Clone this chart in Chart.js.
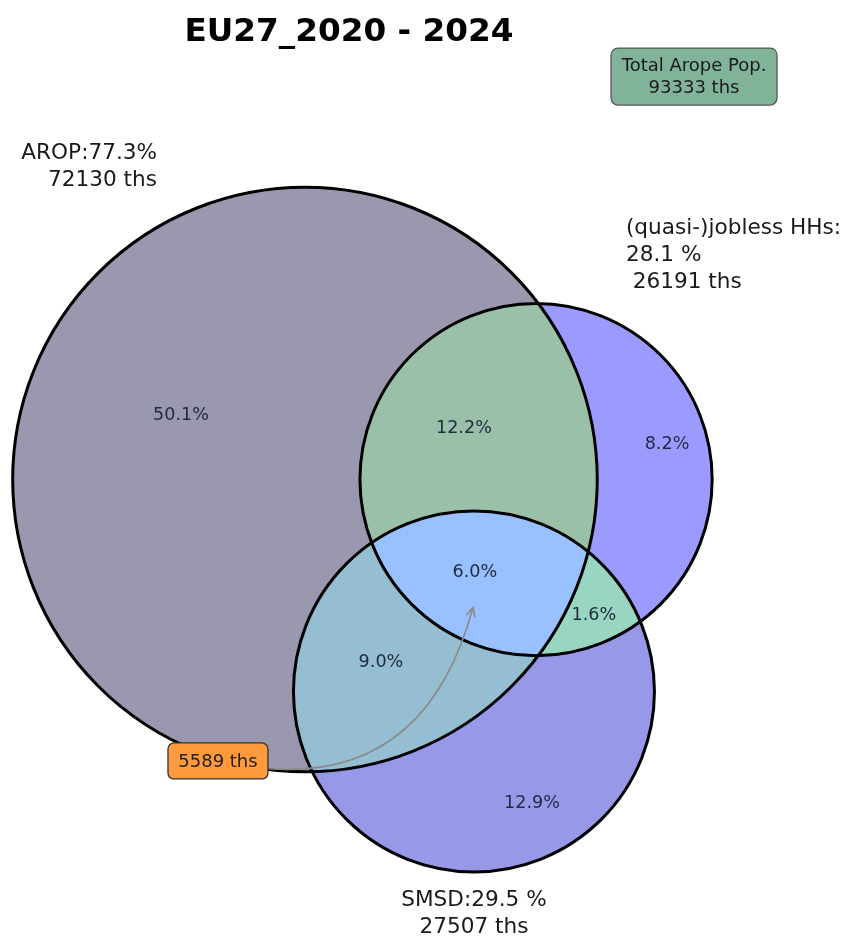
<!DOCTYPE html>
<html>
<head>
<meta charset="utf-8">
<script src="https://cdn.jsdelivr.net/npm/chart.js@4.4.1/dist/chart.umd.min.js"></script>
<style>
  body { margin: 0; background: #fff; }
  #wrap { width: 847px; height: 939px; }
</style>
</head>
<body>
<div id="wrap"><canvas id="venn"></canvas></div>
<script>
var chartTitle = "EU27_2020 - 2024";
var setNames = ["AROP", "(quasi-)jobless HHs", "SMSD"];
var setShares = [77.3, 28.1, 29.5];
var setThs = [72130, 26191, 27507];
var totalThs = 93333;
// regions as bit masks: 1 = AROP, 2 = jobless, 4 = SMSD
var regionMasks = [1, 2, 4, 3, 5, 6, 7];
var regionShares = [50.1, 8.2, 12.9, 12.2, 9.0, 1.6, 6.0];
var coreThs = 5589;

// layout (venn units, circle area = ths)
var setCenters = [{x: 0, y: 0}, {x: 119.8, y: 0}, {x: 87.6, y: -109.9}];
var regionLabelPos = [
  {x: -64.3, y: 33.4}, {x: 187.7, y: 18.4}, {x: 117.7, y: -167.7},
  {x: 82.4, y: 26.7}, {x: 39.4, y: -94.6}, {x: 149.8, y: -70.2}, {x: 88.1, y: -48.0}
];
var regionColors = ["#9a98ae", "#9b9bff", "#9898e8", "#9bc0aa", "#96bed3", "#99d6c1", "#99c0ff"];
var setLabelPos = [{x: -76.7, y: 169.3}, {x: 166.4, y: 123.1}, {x: 87.6, y: -218.0}];
var setLabelAlign = ["right", "left", "center"];
var titlePos = {x: 22.8, y: 232.0};
var totalBoxPos = {x: 201.7, y: 208.9};
var coreBoxPos = {x: -45.1, y: -145.9};
var coreArrowTip = {x: 87.1, y: -66.3};

var FONT = "'DejaVu Sans', sans-serif";

function setLabel(i) {
  if (i == 0) return setNames[0] + ":" + setShares[0].toFixed(1) + "%\n" + setThs[0] + " ths";
  if (i == 1) return setNames[1] + ":\n" + setShares[1].toFixed(1) + " %\n " + setThs[1] + " ths";
  return setNames[2] + ":" + setShares[2].toFixed(1) + " %\n" + setThs[2] + " ths";
}

function drawLines(ctx, text, x, y, lh) {
  var lines = text.split("\n");
  var y0 = y - (lines.length - 1) * lh / 2;
  lines.forEach(function (l, k) { ctx.fillText(l, x, y0 + k * lh); });
}

function roundBox(ctx, cx, cy, w, h, r, fill, stroke) {
  var x = cx - w / 2, y = cy - h / 2;
  ctx.beginPath();
  ctx.roundRect(x, y, w, h, r);
  ctx.fillStyle = fill;
  ctx.fill();
  ctx.lineWidth = 1.3;
  ctx.strokeStyle = stroke;
  ctx.stroke();
}

var vennPlugin = {
  id: "venn",
  beforeDatasetsDraw: function (chart) {
    var ctx = chart.ctx, xs = chart.scales.x, ys = chart.scales.y;
    var W = chart.width, H = chart.height;
    var pts = chart.getDatasetMeta(0).data;
    var circles = pts.map(function (p, i) {
      var r = Math.sqrt(setThs[i] / Math.PI);
      return {x: p.x, y: p.y, r: xs.getPixelForValue(setCenters[i].x + r) - xs.getPixelForValue(setCenters[i].x)};
    });
    regionMasks.forEach(function (m, k) {
      ctx.save();
      circles.forEach(function (c, i) {
        ctx.beginPath();
        if (m & (1 << i)) {
          ctx.arc(c.x, c.y, c.r, 0, 2 * Math.PI);
          ctx.clip();
        } else {
          ctx.rect(0, 0, W, H);
          ctx.arc(c.x, c.y, c.r, 0, 2 * Math.PI);
          ctx.clip("evenodd");
        }
      });
      ctx.fillStyle = regionColors[k];
      ctx.fillRect(0, 0, W, H);
      ctx.restore();
    });
    ctx.save();
    ctx.lineWidth = 3;
    ctx.strokeStyle = "#000";
    circles.forEach(function (c) {
      ctx.beginPath();
      ctx.arc(c.x, c.y, c.r, 0, 2 * Math.PI);
      ctx.stroke();
    });
    ctx.restore();
  },
  afterDatasetsDraw: function (chart) {
    var ctx = chart.ctx, xs = chart.scales.x, ys = chart.scales.y;
    ctx.save();
    ctx.textAlign = "center";
    ctx.textBaseline = "middle";

    // region percentages
    var lbl = chart.getDatasetMeta(1).data;
    ctx.font = "17.6px " + FONT;
    ctx.fillStyle = "#1f2b3d";
    lbl.forEach(function (p, k) {
      ctx.fillText(regionShares[k].toFixed(1) + "%", p.x, p.y);
    });

    // set labels
    ctx.font = "21.6px " + FONT;
    ctx.fillStyle = "#1a1a1a";
    setLabelPos.forEach(function (pos, i) {
      ctx.textAlign = setLabelAlign[i];
      drawLines(ctx, setLabel(i), xs.getPixelForValue(pos.x), ys.getPixelForValue(pos.y) + 13.5, 27);
    });
    ctx.textAlign = "center";

    // curved arrow to the core region
    var sx = xs.getPixelForValue(coreBoxPos.x), sy = ys.getPixelForValue(coreBoxPos.y);
    var ex = xs.getPixelForValue(coreArrowTip.x), ey = ys.getPixelForValue(coreArrowTip.y);
    var cx = (sx + ex) / 2 - 0.48 * (ey - sy), cy = (sy + ey) / 2 + 0.48 * (ex - sx);
    ctx.strokeStyle = "#8a8a8a";
    ctx.lineWidth = 1.6;
    ctx.beginPath();
    ctx.moveTo(sx, sy);
    ctx.quadraticCurveTo(cx, cy, ex, ey);
    ctx.stroke();
    var dx = ex - cx, dy = ey - cy, d = Math.sqrt(dx * dx + dy * dy);
    dx /= d; dy /= d;
    ctx.beginPath();
    ctx.moveTo(ex - 9 * dx - 4.5 * dy, ey - 9 * dy + 4.5 * dx);
    ctx.lineTo(ex, ey);
    ctx.lineTo(ex - 9 * dx + 4.5 * dy, ey - 9 * dy - 4.5 * dx);
    ctx.stroke();

    // core box
    ctx.font = "18px " + FONT;
    roundBox(ctx, sx, sy, 100, 36, 6, "#ff9a3c", "#333");
    ctx.fillStyle = "#222";
    ctx.fillText(coreThs + " ths", sx, sy + 1);

    // total box
    var tx = xs.getPixelForValue(totalBoxPos.x), ty = ys.getPixelForValue(totalBoxPos.y);
    roundBox(ctx, tx, ty, 166, 57, 7, "#80b39a", "#555");
    ctx.fillStyle = "#1a1a1a";
    drawLines(ctx, "Total Arope Pop.\n" + totalThs + " ths", tx, ty + 1, 22);

    // title
    ctx.font = "bold 32.7px " + FONT;
    ctx.fillStyle = "#000";
    ctx.fillText(chartTitle, xs.getPixelForValue(titlePos.x), ys.getPixelForValue(titlePos.y));
    ctx.restore();
  }
};

new Chart(document.getElementById("venn").getContext("2d"), {
  type: "scatter",
  data: {
    datasets: [{
      label: "sets",
      data: setCenters,
      pointRadius: 0
    }, {
      label: "regions",
      data: regionLabelPos,
      pointRadius: 0
    }]
  },
  options: {
    responsive: true,
    maintainAspectRatio: false,
    animation: false,
    layout: { padding: 0 },
    plugins: {
      legend: { display: false },
      tooltip: { enabled: false }
    },
    scales: {
      x: { type: "linear", display: false, min: -158.1, max: 281.0 },
      y: { type: "linear", display: false, min: -238.2, max: 248.6 }
    }
  },
  plugins: [vennPlugin]
});
</script>
</body>
</html>
